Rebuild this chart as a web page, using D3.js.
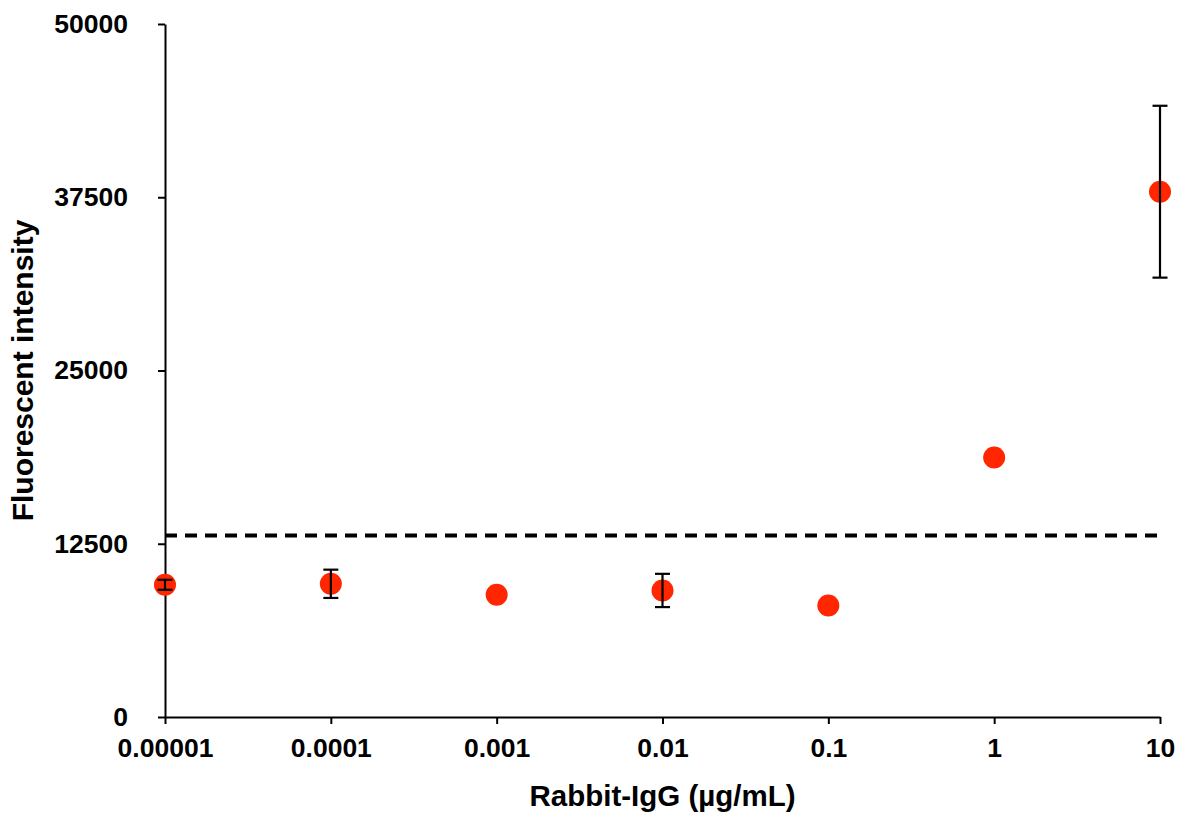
<!DOCTYPE html>
<html>
<head>
<meta charset="utf-8">
<script src="https://cdnjs.cloudflare.com/ajax/libs/d3/7.8.5/d3.min.js"></script>
<style>
  body { margin: 0; background: #fff; }
  .axis path, .axis line { stroke: #000; stroke-width: 2px; }
  .axis text { font-family: "Liberation Sans", Arial, sans-serif; font-weight: bold; font-size: 26.5px; fill: #000; }
</style>
</head>
<body>
<svg id="chart" width="1178" height="814"></svg>
<script>
// concentrations (ug/mL) and measured intensities
var concentrations = [0.00001, 0.0001, 0.001, 0.01, 0.1, 1, 10];
var intensities = [9540, 9610, 8820, 9130, 8050, 18720, 37900];
var errors = [360, 1020, 0, 1200, 0, 0, 6200];
var cutoff = 13100;
var yTicks = [0, 12500, 25000, 37500, 50000];
var xTickLabels = ["0.00001", "0.0001", "0.001", "0.01", "0.1", "1", "10"];

var margin = {top: 24, right: 18, bottom: 97, left: 165},
    width = 1178 - margin.left - margin.right,
    height = 814 - margin.top - margin.bottom;

var svg = d3.select("#chart")
  .append("g")
  .attr("transform", "translate(" + margin.left + "," + margin.top + ")");

var x = d3.scaleLog()
  .domain([0.00001, 10])
  .range([0, width]);

var y = d3.scaleLinear()
  .domain([0, 50000])
  .range([height, 0]);

var xAxis = d3.axisBottom(x)
  .tickValues(concentrations)
  .tickFormat(function(d, i) { return xTickLabels[i]; })
  .tickSize(7)
  .tickSizeOuter(0)
  .tickPadding(14);

var yAxis = d3.axisLeft(y)
  .tickValues(yTicks)
  .tickFormat(d3.format("d"))
  .tickSize(7)
  .tickSizeOuter(0)
  .tickPadding(30);

svg.append("g")
  .attr("class", "axis")
  .attr("transform", "translate(0," + height + ")")
  .call(xAxis);

svg.append("g")
  .attr("class", "axis")
  .call(yAxis);

// cutoff line
svg.append("line")
  .attr("x1", 0)
  .attr("x2", width)
  .attr("y1", y(cutoff))
  .attr("y2", y(cutoff))
  .attr("stroke", "#000")
  .attr("stroke-width", 4)
  .attr("stroke-dasharray", "12,8");

var data = concentrations.map(function(c, i) {
  return {c: c, v: intensities[i], e: errors[i]};
});

svg.selectAll(".dot")
  .data(data)
  .enter()
  .append("circle")
  .attr("class", "dot")
  .attr("cx", function(d) { return x(d.c); })
  .attr("cy", function(d) { return y(d.v); })
  .attr("r", 11)
  .attr("fill", "#ff2600");

// error bars
var eb = svg.selectAll(".err")
  .data(data.filter(function(d) { return d.e > 0; }))
  .enter()
  .append("g")
  .attr("class", "err")
  .attr("stroke", "#000")
  .attr("stroke-width", 2.2);

eb.append("line")
  .attr("x1", function(d) { return x(d.c); })
  .attr("x2", function(d) { return x(d.c); })
  .attr("y1", function(d) { return y(d.v + d.e); })
  .attr("y2", function(d) { return y(d.v - d.e); });

eb.append("line")
  .attr("x1", function(d) { return x(d.c) - 7.5; })
  .attr("x2", function(d) { return x(d.c) + 7.5; })
  .attr("y1", function(d) { return y(d.v + d.e); })
  .attr("y2", function(d) { return y(d.v + d.e); });

eb.append("line")
  .attr("x1", function(d) { return x(d.c) - 7.5; })
  .attr("x2", function(d) { return x(d.c) + 7.5; })
  .attr("y1", function(d) { return y(d.v - d.e); })
  .attr("y2", function(d) { return y(d.v - d.e); });

// axis titles
svg.append("text")
  .attr("x", width / 2)
  .attr("y", height + 89)
  .style("text-anchor", "middle")
  .attr("font-family", "Liberation Sans, Arial, sans-serif")
  .attr("font-weight", "bold")
  .attr("font-size", "29.5px")
  .text("Rabbit-IgG (µg/mL)");

svg.append("text")
  .attr("transform", "translate(" + (33 - margin.left) + "," + (height / 2) + ") rotate(-90)")
  .style("text-anchor", "middle")
  .attr("font-family", "Liberation Sans, Arial, sans-serif")
  .attr("font-weight", "bold")
  .attr("font-size", "30px")
  .text("Fluorescent intensity");
</script>
</body>
</html>
